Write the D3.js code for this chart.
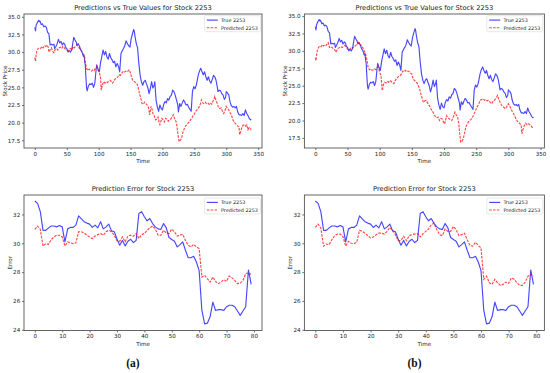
<!DOCTYPE html>
<html><head><meta charset="utf-8">
<script src="https://cdn.jsdelivr.net/npm/d3@7"></script>
<style>html,body{margin:0;padding:0;background:#fff}</style>
</head><body>
<svg id="c" width="550" height="373"></svg>
<script>
// ---------- DATA ----------
const seriesNames = ["True 2253", "Predicted 2253"];
const priceTitle = "Predictions vs True Values for Stock 2253";
const errorTitle = "Prediction Error for Stock 2253";
const priceXTicks = [0, 50, 100, 150, 200, 250, 300, 350];
const priceYTicks = [17.5, 20.0, 22.5, 25.0, 27.5, 30.0, 32.5, 35.0];
const errorXTicks = [0, 10, 20, 30, 40, 50, 60, 70, 80];
const errorYTicks = [24, 26, 28, 30, 32];
const panelLabels = ["(a)", "(b)"];

// [time, price]
const priceTrue = [[0,33.5],[1,33.0],[2,33.8],[4,34.2],[6,34.5],[7,34.3],[8,34.4],[10,33.9],[12,34.0],[14,33.6],[16,33.7],[18,33.5],[20,32.8],[22,32.6],[23,31.8],[24,31.0],[26,31.1],[28,31.0],[30,31.1],[31,30.5],[33,30.8],[35,31.2],[37,31.8],[39,31.3],[41,31.5],[43,31.0],[45,31.3],[47,31.1],[48,30.7],[50,30.5],[52,30.0],[54,30.2],[56,30.0],[58,30.4],[59,31.0],[61,32.1],[63,31.7],[65,31.4],[66,31.0],[68,31.2],[70,30.8],[72,30.3],[74,30.0],[76,29.4],[77,29.6],[78,28.8],[79,28.2],[80,26.5],[81,25.0],[82,24.5],[84,25.2],[86,25.5],[88,25.4],[90,25.6],[92,25.0],[94,25.6],[96,27.5],[97,28.2],[99,27.6],[101,27.2],[103,28.5],[105,29.4],[107,30.3],[109,29.6],[111,30.1],[113,29.3],[115,29.0],[117,29.8],[119,29.2],[121,28.9],[123,28.5],[125,28.7],[127,27.9],[129,28.4],[131,28.0],[133,27.2],[135,29.8],[137,30.2],[139,30.5],[141,30.9],[143,31.6],[145,31.2],[147,30.9],[149,30.7],[151,31.9],[153,32.6],[155,33.2],[156,32.9],[157,32.2],[159,31.2],[161,30.6],[163,28.4],[165,26.7],[167,25.8],[169,25.3],[171,25.8],[173,26.0],[175,25.5],[177,25.0],[179,24.1],[181,24.8],[183,25.8],[185,24.9],[187,25.3],[188,25.8],[190,23.2],[192,22.2],[194,21.6],[196,22.5],[198,22.0],[200,21.8],[202,22.6],[204,23.0],[206,22.8],[208,23.4],[210,23.2],[212,23.7],[214,23.9],[216,24.6],[218,24.4],[220,23.9],[222,23.2],[224,22.5],[225,21.5],[227,22.7],[229,22.3],[231,22.8],[233,23.2],[235,22.9],[237,22.5],[239,22.6],[241,22.2],[243,21.9],[245,21.6],[247,24.4],[249,25.1],[251,24.8],[253,25.3],[255,26.2],[256,26.7],[258,27.3],[260,27.7],[262,27.2],[264,26.8],[266,27.2],[268,26.5],[270,26.0],[272,26.5],[274,25.9],[276,25.6],[278,26.1],[280,26.7],[282,26.5],[284,26.0],[286,25.0],[287,24.4],[289,24.6],[291,24.5],[293,24.1],[295,23.9],[297,23.3],[299,23.6],[300,24.4],[302,24.2],[304,23.9],[306,22.9],[308,22.4],[310,22.2],[312,22.3],[314,22.1],[316,22.3],[318,21.5],[320,21.1],[322,21.1],[324,21.0],[326,21.3],[328,21.0],[330,21.8],[332,21.3],[334,21.0],[336,20.6],[338,20.4],[339,20.5]];

const pricePredA = [[0,29.2],[1,28.7],[2,29.6],[3,30.1],[5,30.5],[7,30.6],[9,30.5],[11,30.8],[13,30.6],[15,30.9],[17,30.8],[19,31.0],[21,30.7],[22,30.0],[24,30.3],[26,30.6],[28,30.1],[30,29.9],[32,30.4],[34,30.5],[36,30.3],[38,30.6],[40,30.7],[42,30.5],[44,30.8],[46,30.6],[48,30.4],[50,30.3],[52,30.2],[54,30.4],[56,30.5],[58,30.3],[60,30.8],[62,30.6],[64,30.9],[66,31.0],[68,30.8],[70,30.5],[72,30.4],[74,30.0],[76,29.7],[78,29.3],[79,28.6],[81,27.7],[83,27.4],[85,27.6],[87,27.4],[89,27.3],[91,27.5],[93,27.4],[95,27.7],[97,27.9],[99,27.4],[101,27.2],[103,26.3],[104,24.6],[106,25.4],[108,25.8],[110,25.6],[112,25.8],[114,25.7],[116,25.9],[118,26.0],[120,25.8],[122,25.6],[124,25.9],[126,26.2],[128,26.3],[130,26.5],[132,26.8],[134,26.7],[136,27.0],[138,27.2],[140,27.1],[142,27.3],[144,27.2],[146,27.3],[148,27.5],[150,27.0],[152,26.3],[154,25.9],[156,25.8],[158,25.7],[160,25.5],[162,25.0],[164,24.1],[166,23.5],[168,22.7],[170,22.6],[172,22.9],[174,22.7],[176,22.5],[178,22.2],[180,21.1],[182,22.3],[184,21.8],[185,21.3],[187,21.0],[189,20.4],[191,20.5],[193,20.8],[195,19.9],[196,19.7],[198,20.3],[199,20.6],[201,20.4],[203,20.1],[205,20.6],[207,20.5],[209,20.2],[211,20.4],[213,20.5],[215,20.8],[217,21.1],[219,20.6],[221,20.2],[222,19.9],[224,18.5],[226,17.3],[228,17.5],[230,17.8],[232,18.6],[234,19.1],[236,19.5],[238,19.7],[240,19.9],[242,20.1],[244,20.4],[246,20.6],[248,21.0],[250,21.2],[252,21.6],[254,21.8],[256,22.0],[258,22.3],[260,22.8],[261,23.2],[263,22.8],[265,22.7],[267,22.9],[269,22.7],[271,22.8],[273,22.6],[275,22.8],[277,22.6],[279,23.0],[281,23.4],[282,23.7],[284,23.1],[286,22.7],[288,22.1],[290,22.0],[292,22.1],[294,21.6],[296,21.3],[298,21.7],[300,22.3],[302,22.0],[304,21.8],[306,21.4],[308,21.1],[310,20.5],[312,20.1],[314,19.9],[316,19.7],[318,19.5],[320,19.4],[321,18.3],[323,18.8],[324,19.2],[326,19.6],[328,19.7],[330,19.5],[332,19.7],[334,19.0],[336,19.3],[338,19.1],[339,19.0]];

const pricePredB = [[0,29.0],[1,28.6],[2,29.5],[3,30.0],[5,30.5],[7,30.7],[9,30.6],[11,30.9],[13,30.7],[15,30.9],[17,30.8],[19,31.1],[20,31.2],[22,30.5],[24,30.6],[26,30.5],[28,30.3],[30,30.2],[32,29.8],[34,30.2],[36,30.4],[38,30.5],[40,30.6],[42,30.5],[44,30.7],[46,30.8],[48,30.5],[50,30.3],[52,30.1],[54,30.3],[56,30.5],[58,30.4],[60,30.6],[62,30.7],[64,30.9],[66,31.0],[67,31.2],[69,30.9],[71,30.8],[73,30.6],[75,30.2],[77,29.8],[79,29.2],[80,28.8],[82,27.6],[84,27.3],[86,27.4],[88,27.2],[90,27.3],[92,27.4],[94,27.3],[96,27.6],[98,27.7],[100,26.9],[102,26.5],[104,24.3],[106,25.2],[108,25.5],[110,25.4],[112,25.6],[114,25.5],[116,25.75],[118,25.6],[120,25.4],[122,25.3],[124,25.7],[126,26.0],[128,26.2],[130,26.4],[132,26.5],[134,26.7],[136,27.1],[138,27.0],[140,27.2],[142,27.0],[144,27.1],[146,27.0],[148,26.8],[150,26.7],[152,26.0],[154,25.75],[156,25.6],[158,25.4],[160,25.0],[162,24.6],[164,23.8],[166,23.2],[168,22.6],[170,22.8],[172,22.9],[174,22.6],[176,22.3],[178,22.0],[180,21.6],[181,21.4],[183,21.2],[185,20.7],[187,20.6],[189,20.4],[191,20.5],[193,20.0],[195,20.3],[197,20.25],[199,19.8],[201,19.5],[203,20.3],[204,20.7],[206,20.4],[208,20.25],[210,20.1],[212,20.0],[214,20.4],[216,20.9],[217,21.2],[219,20.8],[221,20.5],[223,19.5],[224,18.4],[226,16.9],[228,17.0],[230,17.4],[232,18.2],[234,19.1],[236,19.5],[238,19.8],[240,20.0],[243,20.25],[245,20.6],[247,21.0],[249,21.4],[251,21.9],[253,22.2],[255,22.6],[256,22.9],[258,23.0],[261,23.1],[263,22.9],[265,23.0],[267,22.8],[269,22.9],[271,22.7],[273,22.5],[274,22.4],[276,22.7],[278,22.9],[280,23.1],[282,23.4],[283,23.6],[285,23.1],[287,22.65],[289,22.3],[291,22.0],[293,21.9],[295,21.7],[297,21.9],[299,22.2],[300,22.4],[302,22.1],[304,21.7],[306,21.3],[308,21.0],[310,20.6],[312,20.2],[314,19.9],[316,19.7],[318,19.55],[320,19.3],[321,18.1],[323,18.8],[325,19.3],[327,19.6],[329,19.4],[331,19.55],[333,19.4],[335,19.3],[337,19.0],[339,18.8]];

// error panels: one value per time step 0..79
const errorTrue = [32.93,32.77,32.2,30.9,30.9,31.07,31.2,31.2,31.14,31.23,31.14,30.1,31.0,31.1,31.1,31.26,31.9,31.7,31.5,31.4,31.33,31.1,31.26,31.07,31.5,31.0,31.14,31.33,30.86,30.8,30.3,29.87,30.2,29.82,30.14,30.28,30.05,30.2,32.07,32.19,31.84,31.56,31.72,31.37,31.14,31.0,30.96,31.37,31.07,30.4,30.26,30.14,29.75,29.91,30.1,29.52,29.0,29.0,29.1,28.7,28.1,25.34,24.41,24.46,24.9,25.92,25.34,25.4,25.4,25.34,25.6,25.7,25.7,25.6,25.3,25.0,25.3,25.6,28.15,27.15];
const errorPredA = [30.96,31.19,30.96,29.8,29.98,29.93,30.26,30.44,30.56,30.56,30.44,29.82,30.1,30.03,29.98,30.03,30.8,30.8,30.72,30.56,30.44,30.33,30.5,30.6,30.68,30.56,30.8,30.9,30.8,30.56,30.17,30.14,30.44,30.1,30.5,30.56,30.5,30.68,30.33,30.6,30.68,30.9,31.07,31.2,31.0,30.56,30.56,30.9,30.72,30.68,30.98,30.8,30.5,30.56,30.63,30.2,29.87,29.75,29.93,29.75,29.63,27.66,27.78,27.55,27.31,27.66,27.36,27.2,27.31,27.48,27.36,27.73,27.6,27.43,27.2,27.24,27.43,27.9,27.94,27.85];
const errorPredB = [31.1,31.33,31.06,29.8,29.95,29.9,30.25,30.53,30.64,30.64,30.48,29.8,30.14,30.0,29.98,30.07,30.9,30.83,30.7,30.53,30.37,30.44,30.6,30.7,30.7,30.64,30.83,31.1,30.9,30.6,30.18,30.2,30.48,30.18,30.53,30.6,30.64,30.67,30.44,30.67,30.83,30.99,31.29,31.4,30.94,30.6,30.53,30.99,30.83,30.83,31.17,30.94,30.53,30.6,30.7,30.25,29.84,29.8,30.07,29.84,29.68,27.5,27.72,27.26,27.15,27.5,27.26,27.08,27.15,27.31,27.22,27.6,27.5,27.26,27.08,27.08,27.31,27.72,27.84,27.72];

// ---------- DRAW ----------
const svg = d3.select("#c");
svg.append("rect").attr("width",550).attr("height",373).attr("fill","#fff");
const FONT = "DejaVu Sans, sans-serif";
const TRUE_COLOR = "#0000ff", PRED_COLOR = "#ff0000";

function panel(o) {
  const g = svg.append("g");
  const x = d3.scaleLinear().domain(o.xDomain).range([o.left, o.right]);
  const y = d3.scaleLinear().domain(o.yDomain).range([o.bottom, o.top]);

  const ax = g.append("g").attr("transform", `translate(0,${o.bottom})`)
    .call(d3.axisBottom(x).tickValues(o.xTicks).tickSize(2).tickPadding(1.8).tickFormat(d3.format("d")));
  const ay = g.append("g").attr("transform", `translate(${o.left},0)`)
    .call(d3.axisLeft(y).tickValues(o.yTicks).tickSize(2).tickPadding(1.8).tickFormat(o.yFmt));
  [ax, ay].forEach(a => {
    a.select(".domain").remove();
    a.selectAll("line").attr("stroke", "#333").attr("stroke-width", 0.7);
    a.selectAll("text").attr("font-family", FONT).attr("font-size", 5.6).attr("fill", "#1a1a1a");
  });

  const clipId = "clip" + o.id;
  g.append("clipPath").attr("id", clipId).append("rect")
    .attr("x", o.left).attr("y", o.top).attr("width", o.right - o.left).attr("height", o.bottom - o.top);

  const line = d3.line().x(d => x(d[0])).y(d => y(d[1]));
  const plot = g.append("g").attr("clip-path", `url(#${clipId})`);
  plot.append("path").datum(o.trueData).attr("d", line).attr("fill", "none")
    .attr("stroke", TRUE_COLOR).attr("stroke-opacity", 0.72).attr("stroke-width", 1.15).attr("stroke-linejoin", "round");
  plot.append("path").datum(o.predData).attr("d", line).attr("fill", "none")
    .attr("stroke", PRED_COLOR).attr("stroke-opacity", 0.72).attr("stroke-width", 1.15)
    .attr("stroke-dasharray", "2.6,1.2");

  g.append("rect").attr("x", o.left).attr("y", o.top).attr("width", o.right - o.left).attr("height", o.bottom - o.top)
    .attr("fill", "none").attr("stroke", "#555").attr("stroke-width", 0.9);

  g.append("text").attr("x", (o.left + o.right) / 2).attr("y", o.top - 3.6).attr("text-anchor", "middle")
    .attr("font-family", FONT).attr("font-size", 6.7).attr("fill", "#1a1a1a").text(o.title);
  g.append("text").attr("x", (o.left + o.right) / 2).attr("y", o.bottom + 15).attr("text-anchor", "middle")
    .attr("font-family", FONT).attr("font-size", 5.6).attr("fill", "#1a1a1a").text("Time");
  g.append("text").attr("transform", `translate(${o.yLabelX},${(o.top + o.bottom) / 2}) rotate(-90)`)
    .attr("text-anchor", "middle").attr("dominant-baseline", "middle")
    .attr("font-family", FONT).attr("font-size", 5.6).attr("fill", "#1a1a1a").text(o.yLabel);

  const lw = 56, lh = 16;
  const lx = o.right - 1.6 - lw, ly = o.top + o.legendTop;
  g.append("rect").attr("x", lx).attr("y", ly).attr("width", lw).attr("height", lh).attr("rx", 1.2)
    .attr("fill", "#fff").attr("fill-opacity", 0.8).attr("stroke", "#d0d0d0").attr("stroke-width", 0.5);
  seriesNames.forEach((name, i) => {
    const yy = ly + 4.4 + i * 7.6;
    g.append("line").attr("x1", lx + 2.4).attr("x2", lx + 13.4).attr("y1", yy).attr("y2", yy)
      .attr("stroke", i === 0 ? TRUE_COLOR : PRED_COLOR).attr("stroke-opacity", 0.72).attr("stroke-width", 1.15)
      .attr("stroke-dasharray", i === 0 ? null : "2.6,1.2");
    g.append("text").attr("x", lx + 16.6).attr("y", yy).attr("dominant-baseline", "central")
      .attr("font-family", FONT).attr("font-size", 4.9).attr("fill", "#1a1a1a").text(name);
  });
}

const errIdx = d3.range(errorTrue.length);
const pairs = arr => errIdx.map(i => [i, arr[i]]);
const fmt1 = d3.format(".1f"), fmt0 = d3.format("d");

const cols = [
  {left: 24, right: 262, yLabelX: 5.5, errLabelX: 10.5, label: panelLabels[0], labelX: 133, pred: pricePredA, errPred: errorPredA, yDom: [16.4, 35.4]},
  {left: 304.4, right: 544.4, yLabelX: 285.5, errLabelX: 290.5, label: panelLabels[1], labelX: 414.5, pred: pricePredB, errPred: errorPredB, yDom: [16.05, 35.3]}
];
cols.forEach((c, k) => {
  panel({id: "p" + k, left: c.left, right: c.right, top: 14, bottom: 148,
    xDomain: [-17, 356], yDomain: c.yDom, xTicks: priceXTicks, yTicks: priceYTicks, yFmt: fmt1,
    trueData: priceTrue, predData: c.pred, title: priceTitle, yLabel: "Stock Price", yLabelX: c.yLabelX, legendTop: 1.7});
  panel({id: "e" + k, left: c.left, right: c.right, top: 195, bottom: 330.5,
    xDomain: [-3.95, 82.95], yDomain: [23.95, 33.35], xTicks: errorXTicks, yTicks: errorYTicks, yFmt: fmt0,
    trueData: pairs(errorTrue), predData: pairs(c.errPred), title: errorTitle, yLabel: "Error", yLabelX: c.errLabelX, legendTop: 3});
  svg.append("text").attr("x", c.labelX).attr("y", 366.5).attr("text-anchor", "middle")
    .attr("font-family", "Liberation Serif, serif").attr("font-weight", "bold").attr("font-size", 11.5)
    .attr("fill", "#111").text(c.label);
});
</script>
</body></html>
